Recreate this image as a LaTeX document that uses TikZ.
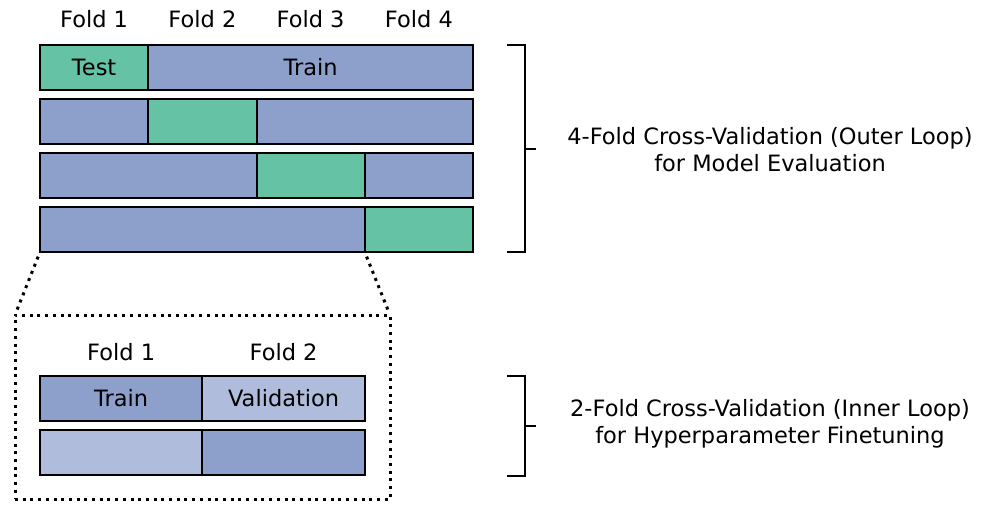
\documentclass[tikz,border=0pt]{standalone}
\usepackage{fontspec}
\setmainfont{DejaVu Sans}
\usetikzlibrary{positioning}

\definecolor{testgreen}{HTML}{66C2A5}
\definecolor{trainblue}{HTML}{8DA0CB}
\definecolor{valblue}{HTML}{AFBCDB}

\begin{document}
\begin{tikzpicture}[x=1pt, y=-1pt,
    every node/.style={font=\fontsize{22.5}{27.5}\selectfont, inner sep=0pt, outer sep=0pt},
    seg/.style={draw, line width=2pt, minimum height=45pt, anchor=west},
    testseg/.style={seg, fill=testgreen},
    trainseg/.style={seg, fill=trainblue},
    valseg/.style={seg, fill=valblue},
    brace/.style={line width=2pt},
    zoomline/.style={line width=3pt, dash pattern=on 3pt off 4.7pt}]
    \useasboundingbox (0,0) rectangle (981,504);

    % outer folds
    \node (of1) at (94.1,19) {Fold 1};
    \node (of2) at (202.4,19) {Fold 2};
    \node (of3) at (310.6,19) {Fold 3};
    \node (of4) at (418.9,19) {Fold 4};

    \node[testseg, minimum width=108.25pt] (r1a) at (40,67.5) {Test};
    \node[trainseg, minimum width=324.75pt, right=0pt of r1a] (r1b) {Train};

    \node[trainseg, minimum width=108.25pt] (r2a) at (40,121.5) {};
    \node[testseg, minimum width=108.25pt, right=0pt of r2a] (r2b) {};
    \node[trainseg, minimum width=216.5pt, right=0pt of r2b] (r2c) {};

    \node[trainseg, minimum width=216.5pt] (r3a) at (40,175.5) {};
    \node[testseg, minimum width=108.25pt, right=0pt of r3a] (r3b) {};
    \node[trainseg, minimum width=108.25pt, right=0pt of r3b] (r3c) {};

    \node[trainseg, minimum width=324.75pt] (r4a) at (40,229.5) {};
    \node[testseg, minimum width=108.25pt, right=0pt of r4a] (r4b) {};

    % outer loop bracket
    \draw[brace] (507,45) -- (525,45) -- (525,252) -- (507,252);
    \draw[brace] (525,149) -- (536,149);
    \node[align=center] (outer) at (770,149.5) {4-Fold Cross-Validation (Outer Loop)\\for Model Evaluation};

    % zoomed inner loop
    \node[zoomline, draw, minimum width=375pt, minimum height=184pt] (zoom) at (202.5,407) {};
    \draw[zoomline, shorten <=5pt, shorten >=3pt] (r4a.south west) -- (zoom.north west);
    \draw[zoomline, shorten <=5pt, shorten >=3pt] (r4a.south east) -- (zoom.north east);

    \node (if1) at (121.2,352) {Fold 1};
    \node (if2) at (283.6,352) {Fold 2};

    \node[trainseg, minimum width=162.4pt] (i1a) at (40,398.5) {Train};
    \node[valseg, minimum width=162.4pt, right=0pt of i1a] (i1b) {Validation};
    \node[valseg, minimum width=162.4pt] (i2a) at (40,452.5) {};
    \node[trainseg, minimum width=162.4pt, right=0pt of i2a] (i2b) {};

    % inner loop bracket
    \draw[brace] (507,376) -- (525,376) -- (525,476) -- (507,476);
    \draw[brace] (525,426) -- (536,426);
    \node[align=center] (inner) at (770,424) {2-Fold Cross-Validation (Inner Loop)\\for Hyperparameter Finetuning};
\end{tikzpicture}
\end{document}
